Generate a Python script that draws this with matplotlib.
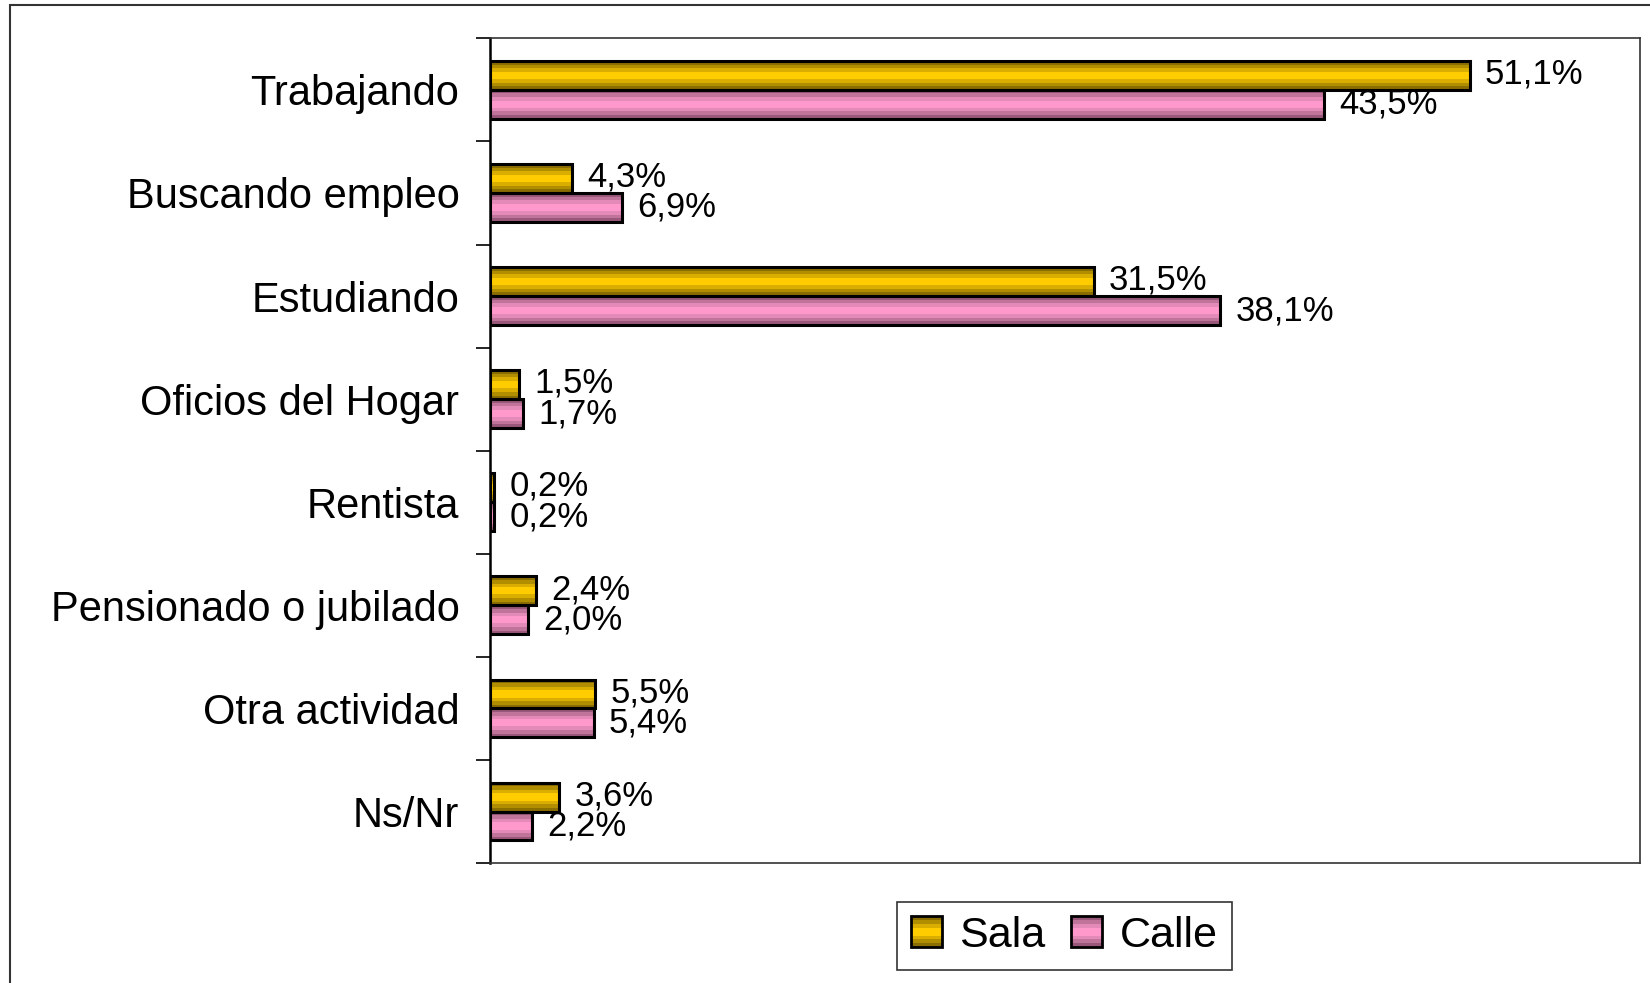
import matplotlib.pyplot as plt
import numpy as np
from matplotlib.patches import Rectangle
from matplotlib.legend_handler import HandlerBase

plt.rcParams['font.family'] = ['Liberation Sans', 'DejaVu Sans']

categories = ['Trabajando', 'Buscando empleo', 'Estudiando', 'Oficios del Hogar',
              'Rentista', 'Pensionado o jubilado', 'Otra actividad', 'Ns/Nr']
sala = [51.1, 4.3, 31.5, 1.5, 0.2, 2.4, 5.5, 3.6]
calle = [43.5, 6.9, 38.1, 1.7, 0.2, 2.0, 5.4, 2.2]
series_names = ['Sala', 'Calle']

# stripe colours, top to bottom (gradient look)
sala_cols = ['#8a6e00', '#b08e00', '#d9ae00', '#ffcc00', '#ffcc00', '#d9ae00', '#b08e00', '#8a6e00']
calle_cols = ['#99587a', '#c0749a', '#e48ab8', '#ff99cc', '#ff99cc', '#e48ab8', '#c0749a', '#99587a']


def fmt(v):
    return f'{v:.1f}%'.replace('.', ',')


def striped_barh(ax, y, vals, h, cols):
    n = len(cols)
    sh = h / n
    for i, c in enumerate(cols):
        # i=0 is the top stripe; y axis is inverted so top means smaller y
        yc = y - h / 2 + sh * (i + 0.5)
        ax.barh(yc, vals, height=sh * 1.02, color=c, edgecolor='none', zorder=2)
    ax.barh(y, vals, height=h, fill=False, edgecolor='black', linewidth=2.2, zorder=3)


class StripeHandler(HandlerBase):
    def __init__(self, cols):
        super().__init__()
        self.cols = cols

    def create_artists(self, legend, orig_handle, xdescent, ydescent, width, height, fontsize, trans):
        arts = []
        n = len(self.cols)
        sh = height / n
        for i, c in enumerate(self.cols):
            r = Rectangle((-xdescent, -ydescent + height - sh * (i + 1)), width, sh,
                          facecolor=c, edgecolor='none', transform=trans)
            arts.append(r)
        arts.append(Rectangle((-xdescent, -ydescent), width, height, fill=False,
                              edgecolor='black', linewidth=2, transform=trans))
        return arts


fig = plt.figure(figsize=(16.5, 9.83), dpi=100)
ax = fig.add_axes([0.297, 0.122, 0.697, 0.839])

y = np.arange(len(categories))
h = 0.28
striped_barh(ax, y - h / 2, sala, h, sala_cols)
striped_barh(ax, y + h / 2, calle, h, calle_cols)

for yi, v in zip(y, sala):
    ax.annotate(fmt(v), (v, yi - h / 2), xytext=(11, 1), textcoords='offset points',
                ha='left', va='center', fontsize=25)
for yi, v in zip(y, calle):
    ax.annotate(fmt(v), (v, yi + h / 2), xytext=(11, 0), textcoords='offset points',
                ha='left', va='center', fontsize=25)

ax.set_xlim(0, 60)
ax.set_ylim(len(categories) - 0.5, -0.5)
ax.set_xticks([])
ax.set_yticks(y)
ax.set_yticklabels(categories, fontsize=30)
ax.tick_params(axis='y', which='major', length=0, pad=22)
ax.set_yticks(np.arange(len(categories) + 1) - 0.5, minor=True)
ax.tick_params(axis='y', which='minor', length=10, width=1.2, direction='out')
for s in ax.spines.values():
    s.set_linewidth(1.2)
    s.set_color('#333333')
ax.spines['left'].set_color('black')
ax.spines['left'].set_linewidth(1.8)

# outer frame
fig.patches.append(Rectangle((10 / 1650, -0.1), 1.2, 1.1 - 5 / 983, fill=False,
                             edgecolor='#333333', linewidth=1.5, transform=fig.transFigure))

handles = [Rectangle((0, 0), 1, 1), Rectangle((0, 0), 1, 1)]
leg = fig.legend(handles, series_names, loc='center', bbox_to_anchor=(0.645, 0.048),
                 fontsize=31, ncol=2, frameon=True, fancybox=False, edgecolor='black',
                 handlelength=0.72, handleheight=0.72, handletextpad=0.4, columnspacing=0.6,
                 borderpad=0.33,
                 handler_map={handles[0]: StripeHandler(sala_cols), handles[1]: StripeHandler(calle_cols)})
leg.get_frame().set_linewidth(1.2)

fig.savefig('out.png', dpi=100)
